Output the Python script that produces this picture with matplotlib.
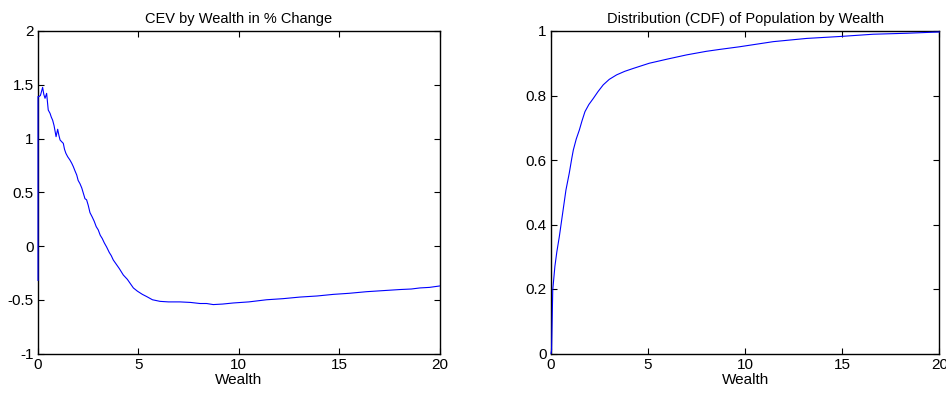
import matplotlib
matplotlib.use("Agg")
import matplotlib.pyplot as plt
from matplotlib.ticker import FuncFormatter

plt.rcParams['font.family'] = ['Liberation Sans', 'DejaVu Sans']
plt.rcParams['axes.unicode_minus'] = False

# Left panel: CEV by wealth (% change)
cev_wealth = [0.0, 0.0, 0.05, 0.12, 0.18, 0.23, 0.29, 0.35, 0.43, 0.51, 0.6, 0.66, 0.73, 0.8, 0.9,
              0.98, 1.04, 1.1, 1.18, 1.26, 1.32, 1.39, 1.48, 1.59, 1.68, 1.76, 1.84, 1.93,
              2.0, 2.09, 2.18, 2.26, 2.34, 2.42, 2.5, 2.59, 2.7, 2.8, 2.9, 3.0, 3.1, 3.2, 3.3, 3.42,
              3.55, 3.65, 3.75, 3.9, 4.05, 4.25, 4.45, 4.6, 4.75, 4.95, 5.2, 5.41, 5.7, 6.08, 6.5,
              7.07, 7.6, 8.07, 8.4, 8.73, 9.2, 9.73, 10.5, 11.39, 12.2, 13.05, 13.9, 14.71, 15.5,
              16.37, 17.2, 18.03, 18.6, 19.03, 19.5, 20.0]
cev_value = [-0.32, 1.39, 1.39, 1.40, 1.44, 1.476, 1.41, 1.374, 1.42, 1.265, 1.234, 1.20, 1.17, 1.12,
             1.017, 1.086, 1.03, 0.986, 0.97, 0.955, 0.90, 0.862, 0.83, 0.80, 0.77, 0.738, 0.70,
             0.66, 0.61, 0.58, 0.54, 0.49, 0.44, 0.43, 0.38, 0.31, 0.27, 0.23, 0.18, 0.15, 0.10, 0.07,
             0.03, -0.01, -0.06, -0.09, -0.13, -0.17, -0.21, -0.27, -0.31, -0.35, -0.39, -0.42, -0.45,
             -0.47, -0.50, -0.515, -0.52, -0.52, -0.525, -0.535, -0.535, -0.545, -0.54, -0.53, -0.52,
             -0.50, -0.49, -0.475, -0.465, -0.45, -0.44, -0.425, -0.415, -0.405, -0.40, -0.39, -0.385,
             -0.372]

# Right panel: CDF of population by wealth
cdf_wealth = [0.0, 0.03, 0.09, 0.2, 0.3, 0.43, 0.6, 0.77, 0.94, 1.07, 1.15, 1.3, 1.46, 1.6, 1.75,
              1.95, 2.18, 2.42, 2.69, 3.0, 3.38, 3.8, 4.24, 5.06, 6.0, 6.99, 8.0, 8.7, 9.7, 11.45,
              13.17, 14.89, 16.6, 18.32, 20.0]
cdf_value = [0.0, 0.011, 0.197, 0.27, 0.315, 0.363, 0.435, 0.507, 0.559, 0.605, 0.631, 0.665, 0.693,
             0.722, 0.75, 0.772, 0.791, 0.812, 0.833, 0.85, 0.864, 0.875, 0.884, 0.90, 0.913, 0.926,
             0.937, 0.943, 0.951, 0.967, 0.977, 0.983, 0.99, 0.993, 0.997]

titles = ["CEV by Wealth in % Change", "Distribution (CDF) of Population by Wealth"]
xlabel = "Wealth"
x_ticks = [0, 5, 10, 15, 20]
left_yticks = [-1, -0.5, 0, 0.5, 1, 1.5, 2]
right_yticks = [0, 0.2, 0.4, 0.6, 0.8, 1]

fig = plt.figure(figsize=(9.46, 3.96), dpi=100)
ax1 = fig.add_axes([38 / 946, 42.5 / 396, 401.5 / 946, 322.5 / 396])
ax2 = fig.add_axes([551 / 946, 42.5 / 396, 388.3 / 946, 322.5 / 396])

fmt = FuncFormatter(lambda v, p: "%g" % v)

def style(ax, xs, ys, title, yticks, ylim):
    ax.plot(xs, ys, color=(0, 0, 1), lw=0.8, zorder=3, clip_on=False)
    ax.set_xlim(0, 20)
    ax.set_ylim(*ylim)
    ax.set_xticks(x_ticks)
    ax.set_yticks(yticks)
    ax.xaxis.set_major_formatter(fmt)
    ax.yaxis.set_major_formatter(fmt)
    ax.tick_params(direction='in', top=True, right=True, length=4, width=0.8,
                   labelsize=11, pad=3, colors='black')
    for s in ax.spines.values():
        s.set_linewidth(1.0)
        s.set_color('black')
    ax.set_title(title, fontsize=10.5, pad=6)
    ax.set_xlabel(xlabel, fontsize=11, labelpad=1)

style(ax1, cev_wealth, cev_value, titles[0], left_yticks, (-1, 2))
style(ax2, cdf_wealth, cdf_value, titles[1], right_yticks, (0, 1))

fig.savefig("out.png", dpi=100)
